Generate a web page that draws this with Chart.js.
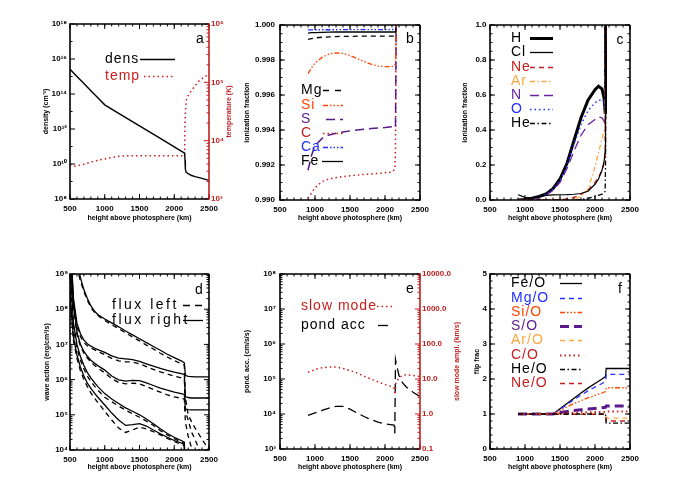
<!DOCTYPE html>
<html>
<head>
<meta charset="utf-8">
<script src="https://cdn.jsdelivr.net/npm/chart.js@4.4.1/dist/chart.umd.min.js"></script>
<style>
  html, body { margin: 0; padding: 0; background: #fff; }
  body { position: relative; width: 700px; height: 500px; overflow: hidden; }
  canvas { position: absolute; }
</style>
</head>
<body>
<canvas id="cA"></canvas>
<canvas id="cB"></canvas>
<canvas id="cC"></canvas>
<canvas id="cD"></canvas>
<canvas id="cE"></canvas>
<canvas id="cF"></canvas>
<script>
// --- panel a: density and temperature ---
const hDens = [500, 600, 700, 800, 900, 1000, 1200, 1500, 1800, 2000, 2100, 2150, 2155, 2160, 2170, 2200, 2250, 2300, 2400, 2500];
const density = [2.6e15, 1.0e15, 4.0e14, 1.55e14, 6.2e13, 2.4e13, 7.9e12, 1.5e12, 2.9e11, 9.5e10, 5.5e10, 4.2e10, 1.6e10, 5.0e9, 3.5e9, 2.8e9, 2.2e9, 1.9e9, 1.5e9, 1.15e9];
const hTemp = [500, 550, 600, 700, 800, 900, 1000, 1100, 1200, 1300, 1500, 1800, 2000, 2140, 2150, 2155, 2160, 2175, 2200, 2250, 2300, 2370, 2460, 2500];
const temperature = [3.9e3, 3.65e3, 3.7e3, 3.95e3, 4.3e3, 4.6e3, 4.85e3, 5.15e3, 5.4e3, 5.5e3, 5.5e3, 5.5e3, 5.5e3, 5.5e3, 6.3e3, 2.0e4, 3.2e4, 5.0e4, 5.9e4, 7.4e4, 8.7e4, 1.1e5, 1.29e5, 1.35e5];

// --- panel b: ionization fraction, metals ---
const hIon = [900, 950, 1000, 1100, 1200, 1300, 1400, 1500, 1600, 1700, 1800, 1900, 2000, 2100, 2140, 2150, 2160];
const ionMg = [0.99918, 0.99922, 0.99926, 0.99930, 0.99932, 0.99934, 0.99935, 0.99935, 0.99936, 0.99936, 0.99937, 0.99937, 0.99937, 0.99937, 0.99937, 0.99940, 1.0];
const ionSi = [0.99722, 0.99755, 0.99782, 0.99815, 0.99834, 0.99841, 0.99838, 0.99826, 0.99809, 0.99791, 0.99776, 0.99766, 0.99762, 0.99762, 0.99768, 0.99790, 1.0];
const ionS = [0.99170, 0.99255, 0.99310, 0.99352, 0.99372, 0.99382, 0.99389, 0.99395, 0.99400, 0.99404, 0.99408, 0.99411, 0.99414, 0.99418, 0.99428, 0.99420, 1.0];
const ionC = [0.99010, 0.99040, 0.99070, 0.99105, 0.99120, 0.99128, 0.99134, 0.99138, 0.99142, 0.99146, 0.99149, 0.99152, 0.99156, 0.99160, 0.99175, 0.99300, 1.0];
const ionCa = [0.99972, 0.99972, 0.99973, 0.99973, 0.99973, 0.99973, 0.99974, 0.99974, 0.99974, 0.99974, 0.99974, 0.99974, 0.99974, 0.99974, 0.99975, 0.99980, 1.0];
const ionFe = [0.99954, 0.99956, 0.99957, 0.99958, 0.99959, 0.99960, 0.99960, 0.99960, 0.99960, 0.99960, 0.99960, 0.99960, 0.99960, 0.99960, 0.99960, 0.99965, 1.0];

// --- panel c: ionization fraction, high FIP elements ---
const hFrac = [900, 1000, 1100, 1200, 1300, 1400, 1500, 1600, 1700, 1800, 1900, 2000, 2050, 2100, 2130, 2145, 2150, 2160];
const fracH = [0, 0.003, 0.01, 0.02, 0.035, 0.065, 0.12, 0.21, 0.34, 0.47, 0.57, 0.63, 0.65, 0.635, 0.58, 0.5, 1.0, 1.0];
const fracCl = [0.03, 0.015, 0.01, 0.018, 0.026, 0.029, 0.03, 0.031, 0.033, 0.037, 0.05, 0.09, 0.12, 0.17, 0.22, 0.28, 1.0, 1.0];
const fracNe = [0, 0, 0, 0, 0, 0, 0.002, 0.006, 0.015, 0.033, 0.058, 0.1, 0.13, 0.17, 0.21, 0.25, 1.0, 1.0];
const fracAr = [0, 0, 0, 0, 0, 0, 0, 0.002, 0.006, 0.02, 0.06, 0.19, 0.27, 0.35, 0.4, 0.43, 1.0, 1.0];
const fracN = [0, 0.002, 0.006, 0.012, 0.028, 0.055, 0.1, 0.18, 0.28, 0.37, 0.43, 0.46, 0.475, 0.47, 0.45, 0.42, 1.0, 1.0];
const fracO = [0, 0.002, 0.007, 0.015, 0.033, 0.062, 0.11, 0.2, 0.32, 0.43, 0.51, 0.555, 0.57, 0.57, 0.555, 0.53, 1.0, 1.0];
const fracHe = [0, 0, 0, 0, 0, 0, 0, 0, 0, 0.002, 0.01, 0.02, 0.026, 0.033, 0.04, 0.05, 0.2, 1.0];

// --- panel d: wave action, five waves, left and right going ---
const hFlux = [500, 520, 550, 600, 650, 700, 750, 800, 850, 900, 1000, 1100, 1200, 1300, 1400, 1500, 1600, 1700, 1800, 1900, 2000, 2100, 2145, 2160, 2200, 2250, 2300, 2350, 2400, 2500];
const flux1Right = [1e11, 3.98e10, 1.26e10, 2.24e9, 7.9e8, 3.55e8, 2.0e8, 1.26e8, 8.9e7, 7.1e7, 5.25e7, 4.1e7, 3.16e7, 2.4e7, 1.86e7, 1.45e7, 1.12e7, 8.7e6, 6.8e6, 5.25e6, 4.2e6, 3.4e6, 3.0e6, 1.32e6, 1.23e6, 1.22e6, 1.2e6, 1.2e6, 1.2e6, 1.2e6];
const flux1Left = [1e11, 3.16e10, 1e10, 1.58e9, 6.3e8, 3.16e8, 1.78e8, 1.12e8, 8.3e7, 6.6e7, 4.8e7, 3.6e7, 2.8e7, 2.14e7, 1.62e7, 1.26e7, 9.5e6, 7.4e6, 5.6e6, 4.4e6, 3.5e6, 2.8e6, 2.57e6, 3.16e5, 1.0e5, 6.3e4, 4.2e4, 2.9e4, 2.0e4, 1.0e4];
const flux2Right = [3.16e10, 2.5e9, 2.0e8, 4.0e7, 2.0e7, 1.32e7, 1.05e7, 8.9e6, 7.9e6, 7.1e6, 5.9e6, 4.7e6, 4.1e6, 3.9e6, 3.7e6, 3.3e6, 2.8e6, 2.4e6, 2.1e6, 1.82e6, 1.62e6, 1.48e6, 1.41e6, 3.3e5, 3.1e5, 3.0e5, 3.0e5, 3.0e5, 3.0e5, 3.0e5];
const flux2Left = [2.0e10, 1.58e9, 1.41e8, 3.16e7, 1.66e7, 1.12e7, 9.1e6, 7.9e6, 7.1e6, 6.3e6, 5.1e6, 4.0e6, 3.4e6, 3.2e6, 3.16e6, 2.8e6, 2.34e6, 1.95e6, 1.66e6, 1.45e6, 1.26e6, 1.12e6, 1.05e6, 1.26e5, 7.1e4, 3.16e4, 2.0e4, 1.12e4, 6.3e3, 2.5e3];
const flux3Right = [1e10, 2.0e9, 1.58e8, 2.24e7, 1.0e7, 6.3e6, 4.6e6, 3.55e6, 2.95e6, 2.5e6, 1.86e6, 1.26e6, 9.8e5, 9.1e5, 9.5e5, 9.3e5, 8.1e5, 6.8e5, 5.75e5, 5.0e5, 4.4e5, 4.0e5, 3.8e5, 1.45e5, 1.41e5, 1.38e5, 1.38e5, 1.38e5, 1.38e5, 1.38e5];
const flux3Left = [7.9e9, 1.26e9, 1.12e8, 1.9e7, 8.9e6, 5.6e6, 4.1e6, 3.16e6, 2.57e6, 2.14e6, 1.55e6, 1.07e6, 8.3e5, 7.6e5, 7.9e5, 7.6e5, 6.3e5, 5.25e5, 4.4e5, 3.7e5, 3.24e5, 2.95e5, 2.8e5, 6.3e4, 2.5e4, 1.12e4, 6.3e3, 4.0e3, 2.5e3, 1.0e3];
const flux4Right = [2.0e9, 4.0e8, 4.0e7, 1.0e7, 4.5e6, 2.5e6, 1.58e6, 1.12e6, 8.3e5, 6.3e5, 4.0e5, 2.8e5, 2.1e5, 1.58e5, 1.26e5, 1.0e5, 7.6e4, 5.6e4, 4.0e4, 2.95e4, 2.3e4, 1.86e4, 1.66e4, 1.0e3, null, null, null, null, null, null];
const flux4Left = [1.26e9, 2.5e8, 2.8e7, 7.9e6, 3.55e6, 2.0e6, 1.26e6, 8.9e5, 6.6e5, 5.0e5, 3.16e5, 2.34e5, 1.78e5, 1.35e5, 1.07e5, 8.5e4, 6.6e4, 5.0e4, 3.55e4, 2.7e4, 2.1e4, 1.7e4, 1.51e4, 1.0e3, null, null, null, null, null, null];
const flux5Right = [3.16e8, 7.9e7, 1.58e7, 5.0e6, 2.24e6, 1.26e6, 7.9e5, 5.6e5, 4.2e5, 3.16e5, 1.9e5, 1.12e5, 7.1e4, 5.0e4, 5.25e4, 5.6e4, 4.8e4, 3.7e4, 2.9e4, 2.3e4, 1.86e4, 1.58e4, 1.41e4, 1.0e3, null, null, null, null, null, null];
const flux5Left = [2.5e8, 6.3e7, 1.26e7, 4.0e6, 1.78e6, 1.0e6, 6.3e5, 4.2e5, 3.0e5, 2.24e5, 1.26e5, 7.1e4, 4.2e4, 3.16e4, 3.7e4, 4.5e4, 4.0e4, 3.3e4, 2.7e4, 2.14e4, 1.74e4, 1.45e4, 1.32e4, 1.0e3, null, null, null, null, null, null];

// --- panel e: ponderomotive acceleration and slow mode amplitude ---
const hPond = [900, 1000, 1100, 1200, 1300, 1400, 1500, 1600, 1700, 1800, 1900, 2000, 2100, 2130, 2140, 2150, 2160, 2200, 2250, 2300, 2400, 2500];
const pondAcc = [9.1e3, 1.07e4, 1.26e4, 1.48e4, 1.66e4, 1.66e4, 1.38e4, 1.07e4, 8.5e3, 6.9e3, 5.9e3, 5.25e3, 4.9e3, 4.8e3, 2.8e3, 3.55e5, 2.8e5, 1.26e5, 7.9e4, 6.0e4, 4.2e4, 3.16e4];
const hSlow = [900, 1000, 1100, 1200, 1300, 1400, 1500, 1600, 1700, 1800, 1900, 2000, 2100, 2130, 2145, 2155, 2200, 2250, 2300, 2400, 2500];
const slowAmp = [15.5, 18.6, 20.9, 21.9, 21.9, 20.0, 17.4, 14.8, 12.0, 10.0, 8.3, 6.9, 6.0, 5.5, 3.55, 7.9, 10.7, 12.6, 13.2, 12.6, 11.7];

// --- panel f: fip fractionation ---
const hFip = [900, 1000, 1100, 1200, 1300, 1400, 1500, 1600, 1700, 1800, 1900, 2000, 2100, 2150, 2160, 2300, 2500];
const fipFe = [1, 1, 1, 1, 1, 1, 1.15, 1.3, 1.45, 1.6, 1.74, 1.87, 2.0, 2.07, 2.3, 2.3, 2.3];
const fipMg = [1, 1, 1, 1, 1, 1, 1.13, 1.27, 1.41, 1.54, 1.66, 1.77, 1.87, 1.93, 2.13, 2.13, 2.13];
const fipSi = [1, 1, 1, 1, 1, 1, 1.1, 1.2, 1.3, 1.38, 1.46, 1.53, 1.6, 1.64, 1.75, 1.75, 1.75];
const fipS = [1, 1, 1, 1, 1, 1, 1.04, 1.07, 1.1, 1.12, 1.14, 1.16, 1.18, 1.19, 1.23, 1.23, 1.23];
const fipAr = [1, 1, 1, 1, 1, 1, 1, 1, 1, 1, 1, 1, 1, 1, 0.88, 0.88, 0.88];
const fipC = [1, 1, 1, 1, 1, 1, 1.02, 1.03, 1.04, 1.05, 1.05, 1.06, 1.06, 1.06, 1.07, 1.07, 1.07];
const fipHe = [1, 1, 1, 1, 1, 1, 1, 1, 1, 1, 1, 1, 1, 1, 0.74, 0.74, 0.74];
const fipNe = [1, 1, 1, 1, 1, 0.99, 0.99, 0.99, 0.99, 0.99, 0.99, 0.99, 0.99, 0.99, 0.8, 0.8, 0.8];

// tick labels
const xTickValues = [500, 1000, 1500, 2000, 2500];
const X_TITLE = 'height above photosphere (km)';

// colours and line styles
const BLACK = '#000000', RED = '#c81e1e', AXRED = '#c02020', ORANGERED = '#ff4500';
const PURPLE = '#5b1a8c', NPURPLE = '#6a22a0', BLUE = '#1f2fff', ORANGE = '#ffa640';
const SOLID = [], DASH = [5, 4], LONG = [9, 5], DOT = [1.5, 3];
const DASHDOT = [5, 2.5, 1.5, 2.5], DASH3DOT = [5, 2, 1.5, 2, 1.5, 2, 1.5, 2];

const tickFont = { family: 'Liberation Sans', size: 8, weight: 'bold' };
const SUP = { '0': '⁰', '1': '¹', '2': '²', '3': '³', '4': '⁴', '5': '⁵', '6': '⁶', '7': '⁷', '8': '⁸', '9': '⁹', '-': '⁻' };
const pow10 = v => '10' + String(Math.round(Math.log10(v))).split('').map(c => SUP[c]).join('');

function linTicks(min, max, step) {
  const out = [];
  for (let v = min; v <= max + step * 1e-6; v += step) out.push(+v.toFixed(6));
  return out;
}
function decades(min, max, step) {
  const out = [];
  for (let n = Math.round(Math.log10(min)); n <= Math.round(Math.log10(max)); n += step) out.push(Math.pow(10, n));
  return out;
}
function logMinor(min, max) {
  const out = [];
  for (let n = Math.floor(Math.log10(min)); n < Math.round(Math.log10(max)); n++)
    for (let k = 2; k <= 9; k++) out.push(k * Math.pow(10, n));
  return out;
}

const line = (xs, ys, color, dash, width, axis) => ({
  data: xs.map((x, i) => ({ x, y: ys[i] })),
  borderColor: color, borderDash: dash, borderWidth: width || 1.3,
  yAxisID: axis || 'y', pointRadius: 0, tension: 0, fill: false, spanGaps: false
});

// tick marks drawn inward on all four sides, IDL style
function marks(ctx, scale, side, a, t, color) {
  ctx.strokeStyle = color;
  ctx.lineWidth = 1;
  ctx.setLineDash([]);
  ctx.beginPath();
  const put = (v, len) => {
    const p = scale.getPixelForValue(v);
    if (side === 'bottom') { ctx.moveTo(p, a.bottom); ctx.lineTo(p, a.bottom - len); }
    if (side === 'top') { ctx.moveTo(p, a.top); ctx.lineTo(p, a.top + len); }
    if (side === 'left') { ctx.moveTo(a.left, p); ctx.lineTo(a.left + len, p); }
    if (side === 'right') { ctx.moveTo(a.right, p); ctx.lineTo(a.right - len, p); }
  };
  t.major.forEach(v => put(v, 5));
  t.minor.forEach(v => put(v, 2.5));
  ctx.stroke();
}

function vtext(ctx, text, x, y, color) {
  ctx.save();
  ctx.translate(x, y);
  ctx.rotate(-Math.PI / 2);
  ctx.fillStyle = color;
  ctx.fillText(text, 0, 0);
  ctx.restore();
}

const idlFrame = {
  id: 'idlFrame',
  afterDraw(chart, args, o) {
    const ctx = chart.ctx, a = chart.chartArea, b = o.box;
    const y2 = chart.scales.y2;
    ctx.save();
    const xt = { major: xTickValues, minor: linTicks(500, 2500, 100) };
    marks(ctx, chart.scales.x, 'bottom', a, xt, BLACK);
    marks(ctx, chart.scales.x, 'top', a, xt, BLACK);
    marks(ctx, chart.scales.y, 'left', a, o.y, BLACK);
    if (y2) marks(ctx, y2, 'right', a, o.y2, AXRED);
    else marks(ctx, chart.scales.y, 'right', a, o.y, BLACK);

    // frame
    ctx.setLineDash([]);
    ctx.lineWidth = 1.6;
    ctx.strokeStyle = BLACK;
    ctx.beginPath();
    ctx.moveTo(a.right, a.top); ctx.lineTo(a.left, a.top);
    ctx.lineTo(a.left, a.bottom); ctx.lineTo(a.right, a.bottom);
    if (!y2) ctx.lineTo(a.right, a.top);
    ctx.stroke();
    if (y2) {
      ctx.strokeStyle = AXRED;
      ctx.beginPath(); ctx.moveTo(a.right, a.top - 0.8); ctx.lineTo(a.right, a.bottom + 0.8); ctx.stroke();
    }

    // axis titles
    ctx.font = 'bold 7px "Liberation Sans"';
    ctx.textAlign = 'center';
    ctx.textBaseline = 'middle';
    ctx.fillStyle = BLACK;
    ctx.fillText(X_TITLE, (a.left + a.right) / 2, o.xTitleY - b.t);
    vtext(ctx, o.yTitle, o.yTitleX - b.l, (a.top + a.bottom) / 2, BLACK);
    if (o.y2Title) vtext(ctx, o.y2Title, o.y2TitleX - b.l, (a.top + a.bottom) / 2, AXRED);

    // panel letter
    ctx.font = '14px "Liberation Sans"';
    ctx.fillStyle = BLACK;
    ctx.fillText(o.letter.text, o.letter.x - b.l, o.letter.y - b.t);

    // legend: text followed by a line sample
    ctx.textAlign = 'left';
    o.legend.forEach(it => {
      ctx.letterSpacing = (it.spacing || 1) + 'px';
      ctx.fillStyle = it.color;
      ctx.fillText(it.text, it.x - b.l, it.y - b.t);
      ctx.letterSpacing = '0px';
      ctx.strokeStyle = it.color;
      ctx.lineWidth = it.width || 1.3;
      ctx.setLineDash(it.dash);
      ctx.beginPath();
      ctx.moveTo(it.x0 - b.l, it.y - b.t + 0.5);
      ctx.lineTo(it.x1 - b.l, it.y - b.t + 0.5);
      ctx.stroke();
    });
    ctx.restore();
  }
};

function yAxis(kind, min, max, ticks, fmt, width, pad, position, color) {
  return {
    type: kind, position, min, max,
    afterBuildTicks: s => { s.ticks = ticks.map(v => ({ value: v })); },
    afterFit: s => { s.width = width; },
    ticks: { font: tickFont, color, padding: pad, autoSkip: false, callback: fmt },
    grid: { display: false, drawTicks: false }, border: { display: false }
  };
}

function panel(id, box, area, datasets, yCfg, y2Cfg, idl) {
  const cv = document.getElementById(id);
  cv.width = box.w; cv.height = box.h;
  cv.style.left = box.l + 'px'; cv.style.top = box.t + 'px';
  const scales = {
    x: {
      type: 'linear', min: 500, max: 2500,
      afterBuildTicks: s => { s.ticks = xTickValues.map(v => ({ value: v })); },
      afterFit: s => { s.height = box.t + box.h - area.y1; },
      ticks: { font: tickFont, color: BLACK, padding: 5, maxRotation: 0, autoSkip: false, callback: v => String(v) },
      grid: { display: false, drawTicks: false }, border: { display: false }
    },
    y: yAxis(yCfg.kind, yCfg.min, yCfg.max, yCfg.ticks, yCfg.fmt, area.x0 - box.l, yCfg.pad, 'left', BLACK)
  };
  if (y2Cfg) scales.y2 = yAxis(y2Cfg.kind, y2Cfg.min, y2Cfg.max, y2Cfg.ticks, y2Cfg.fmt, box.l + box.w - area.x1, y2Cfg.pad, 'right', AXRED);
  idl.box = box;
  return new Chart(cv, {
    type: 'line',
    data: { datasets },
    options: {
      responsive: false, animation: false,
      layout: { padding: { top: area.y0 - box.t, left: 0, bottom: 0, right: y2Cfg ? 0 : box.l + box.w - area.x1 } },
      scales,
      plugins: { legend: { display: false }, tooltip: { enabled: false }, idlFrame: idl }
    },
    plugins: [idlFrame]
  });
}

// a
panel('cA', { l: 0, t: 0, w: 240, h: 240 }, { x0: 70, x1: 209, y0: 24, y1: 199 },
  [line(hDens, density, BLACK, SOLID, 1.4), line(hTemp, temperature, RED, DOT, 1.5, 'y2')],
  { kind: 'logarithmic', min: 1e8, max: 1e18, ticks: decades(1e8, 1e18, 2), fmt: pow10, pad: 3 },
  { kind: 'logarithmic', min: 1e3, max: 1e6, ticks: decades(1e3, 1e6, 1), fmt: pow10, pad: 2 },
  {
    y: { major: decades(1e8, 1e18, 2), minor: decades(1e9, 1e17, 2) },
    y2: { major: decades(1e3, 1e6, 1), minor: logMinor(1e3, 1e6) },
    xTitleY: 218, yTitle: 'density (cm⁻³)', yTitleX: 46, y2Title: 'temperature (K)', y2TitleX: 229,
    letter: { text: 'a', x: 200, y: 39 },
    legend: [
      { text: 'dens', color: BLACK, dash: SOLID, width: 1.4, x: 105, y: 59, x0: 140, x1: 175 },
      { text: 'temp', color: RED, dash: DOT, width: 1.5, x: 105, y: 76, x0: 144, x1: 175 }
    ]
  });

// b
panel('cB', { l: 236, t: 0, w: 230, h: 240 }, { x0: 280, x1: 420, y0: 25, y1: 200 },
  [
    line(hIon, ionMg, BLACK, DASH), line(hIon, ionSi, ORANGERED, DASH3DOT), line(hIon, ionS, PURPLE, LONG, 1.5),
    line(hIon, ionC, RED, DOT, 1.5), line(hIon, ionCa, BLUE, DASH3DOT), line(hIon, ionFe, BLACK, SOLID)
  ],
  { kind: 'linear', min: 0.99, max: 1.0, ticks: linTicks(0.99, 1.0, 0.002), fmt: v => v.toFixed(3), pad: 5 },
  null,
  {
    y: { major: linTicks(0.99, 1.0, 0.002), minor: linTicks(0.99, 1.0, 0.0005) },
    xTitleY: 218, yTitle: 'ionization fraction', yTitleX: 247,
    letter: { text: 'b', x: 410, y: 39 },
    legend: [
      { text: 'Mg', color: BLACK, dash: [6, 6], x: 301, y: 90, x0: 323, x1: 344 },
      { text: 'Si', color: ORANGERED, dash: DASH3DOT, x: 301, y: 105, x0: 323, x1: 343 },
      { text: 'S', color: PURPLE, dash: LONG, width: 1.5, x: 301, y: 119, x0: 326, x1: 343 },
      { text: 'C', color: RED, dash: DOT, width: 1.5, x: 301, y: 133, x0: 323, x1: 343 },
      { text: 'Ca', color: BLUE, dash: DASH3DOT, x: 301, y: 147, x0: 323, x1: 343 },
      { text: 'Fe', color: BLACK, dash: SOLID, x: 301, y: 161, x0: 322, x1: 343 }
    ]
  });

// c
panel('cC', { l: 450, t: 0, w: 250, h: 240 }, { x0: 490, x1: 630, y0: 25, y1: 200 },
  [
    line(hFrac, fracCl, BLACK, SOLID, 1.2), line(hFrac, fracNe, RED, DASH), line(hFrac, fracAr, ORANGE, DASHDOT),
    line(hFrac, fracN, NPURPLE, LONG), line(hFrac, fracO, BLUE, DOT, 1.5), line(hFrac, fracHe, BLACK, DASHDOT),
    line(hFrac, fracH, BLACK, SOLID, 3)
  ],
  { kind: 'linear', min: 0, max: 1, ticks: linTicks(0, 1, 0.2), fmt: v => v.toFixed(1), pad: 3.5 },
  null,
  {
    y: { major: linTicks(0, 1, 0.2), minor: linTicks(0, 1, 0.05) },
    xTitleY: 218, yTitle: 'ionization fraction', yTitleX: 465,
    letter: { text: 'c', x: 620, y: 40 },
    legend: [
      { text: 'H', color: BLACK, dash: SOLID, width: 3, x: 511, y: 38, x0: 530, x1: 553 },
      { text: 'Cl', color: BLACK, dash: SOLID, width: 1.3, x: 511, y: 52, x0: 530, x1: 553 },
      { text: 'Ne', color: RED, dash: DASH, x: 511, y: 67, x0: 530, x1: 553 },
      { text: 'Ar', color: ORANGE, dash: DASHDOT, x: 511, y: 81, x0: 530, x1: 553 },
      { text: 'N', color: NPURPLE, dash: LONG, x: 511, y: 95, x0: 530, x1: 553 },
      { text: 'O', color: BLUE, dash: DOT, width: 1.5, x: 511, y: 109, x0: 530, x1: 553 },
      { text: 'He', color: BLACK, dash: DASHDOT, x: 511, y: 123, x0: 530, x1: 553 }
    ]
  });

// d
panel('cD', { l: 0, t: 240, w: 240, h: 260 }, { x0: 70, x1: 209, y0: 274, y1: 450 },
  [
    line(hFlux, flux1Right, BLACK, SOLID), line(hFlux, flux1Left, BLACK, DASH),
    line(hFlux, flux2Right, BLACK, SOLID), line(hFlux, flux2Left, BLACK, DASH),
    line(hFlux, flux3Right, BLACK, SOLID), line(hFlux, flux3Left, BLACK, DASH),
    line(hFlux, flux4Right, BLACK, SOLID), line(hFlux, flux4Left, BLACK, DASH),
    line(hFlux, flux5Right, BLACK, SOLID), line(hFlux, flux5Left, BLACK, DASH)
  ],
  { kind: 'logarithmic', min: 1e4, max: 1e9, ticks: decades(1e4, 1e9, 1), fmt: pow10, pad: 2 },
  null,
  {
    y: { major: decades(1e4, 1e9, 1), minor: logMinor(1e4, 1e9) },
    xTitleY: 467, yTitle: 'wave action (erg/cm²/s)', yTitleX: 47,
    letter: { text: 'd', x: 199, y: 290 },
    legend: [
      { text: 'flux left', color: BLACK, dash: [7, 5], spacing: 2.5, x: 112, y: 305, x0: 183, x1: 203 },
      { text: 'flux right', color: BLACK, dash: SOLID, spacing: 2.5, x: 112, y: 320, x0: 183, x1: 203 }
    ]
  });

// e
panel('cE', { l: 236, t: 240, w: 230, h: 260 }, { x0: 280, x1: 420, y0: 274, y1: 449 },
  [line(hSlow, slowAmp, RED, DOT, 1.5, 'y2'), line(hPond, pondAcc, BLACK, LONG)],
  { kind: 'logarithmic', min: 1e3, max: 1e8, ticks: decades(1e3, 1e8, 1), fmt: pow10, pad: 4 },
  { kind: 'logarithmic', min: 0.1, max: 1e4, ticks: decades(0.1, 1e4, 1), fmt: v => v.toFixed(1), pad: 2 },
  {
    y: { major: decades(1e3, 1e8, 1), minor: logMinor(1e3, 1e8) },
    y2: { major: decades(0.1, 1e4, 1), minor: logMinor(0.1, 1e4) },
    xTitleY: 467, yTitle: 'pond. acc. (cm/s/s)', yTitleX: 247, y2Title: 'slow mode ampl. (km/s)', y2TitleX: 457,
    letter: { text: 'e', x: 410, y: 289 },
    legend: [
      { text: 'slow mode', color: RED, dash: DOT, width: 1.5, x: 301, y: 306, x0: 377, x1: 392 },
      { text: 'pond acc', color: BLACK, dash: [10, 4], x: 301, y: 325, x0: 378, x1: 392 }
    ]
  });

// f
panel('cF', { l: 462, t: 240, w: 238, h: 260 }, { x0: 490, x1: 630, y0: 274, y1: 449 },
  [
    line(hFip, fipHe, BLACK, DASHDOT), line(hFip, fipNe, RED, DASH), line(hFip, fipAr, ORANGE, DASH),
    line(hFip, fipC, RED, DOT, 2), line(hFip, fipS, PURPLE, LONG, 3), line(hFip, fipSi, ORANGERED, DASH3DOT),
    line(hFip, fipMg, BLUE, DASH), line(hFip, fipFe, BLACK, SOLID)
  ],
  { kind: 'linear', min: 0, max: 5, ticks: linTicks(0, 5, 1), fmt: v => String(v), pad: 3 },
  null,
  {
    y: { major: linTicks(0, 5, 1), minor: linTicks(0, 5, 0.2) },
    xTitleY: 467, yTitle: 'flip frac', yTitleX: 477,
    letter: { text: 'f', x: 620, y: 289 },
    legend: [
      { text: 'Fe/O', color: BLACK, dash: SOLID, x: 511, y: 283, x0: 560, x1: 582 },
      { text: 'Mg/O', color: BLUE, dash: DASH, x: 511, y: 298, x0: 560, x1: 582 },
      { text: 'Si/O', color: ORANGERED, dash: DASH3DOT, x: 511, y: 312, x0: 560, x1: 582 },
      { text: 'S/O', color: PURPLE, dash: LONG, width: 3, x: 511, y: 326, x0: 560, x1: 582 },
      { text: 'Ar/O', color: ORANGE, dash: DASH, x: 511, y: 340, x0: 560, x1: 582 },
      { text: 'C/O', color: RED, dash: DOT, width: 2, x: 511, y: 355, x0: 560, x1: 582 },
      { text: 'He/O', color: BLACK, dash: DASHDOT, x: 511, y: 369, x0: 560, x1: 582 },
      { text: 'Ne/O', color: RED, dash: DASH, x: 511, y: 383, x0: 560, x1: 582 }
    ]
  });
</script>
</body>
</html>
